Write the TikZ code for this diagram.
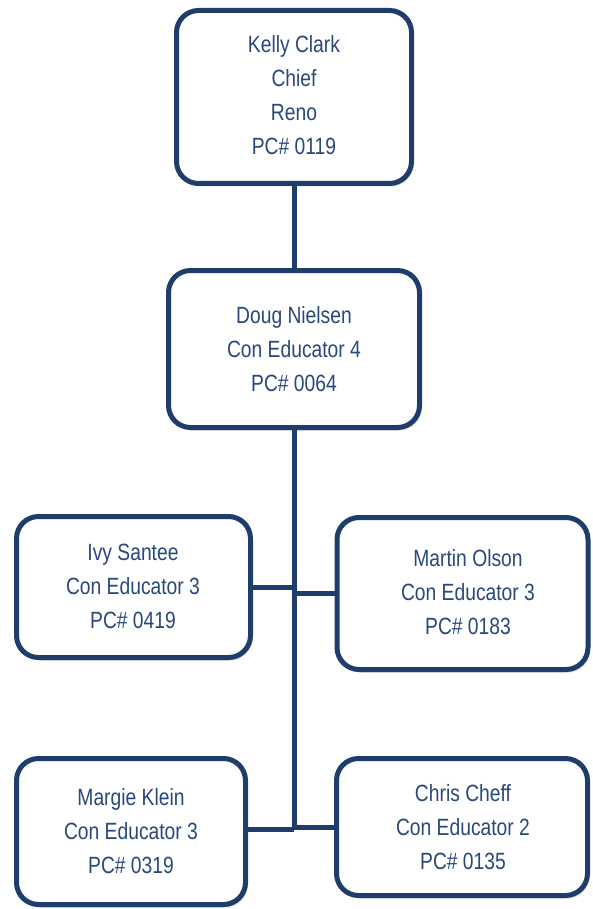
\documentclass[tikz,border=0pt]{standalone}
\usepackage{fontspec}
\setmainfont[FakeStretch=0.82]{Liberation Sans}
\usetikzlibrary{shadows}
\definecolor{edge}{RGB}{31,61,107}
\definecolor{txt}{RGB}{42,72,122}
\begin{document}
\begin{tikzpicture}[x=1pt,y=-1pt,
  box/.style={draw=edge, line width=5pt, rounded corners=22pt, fill=white,
    inner sep=0pt, drop shadow={shadow xshift=2pt, shadow yshift=-3pt, opacity=0.25, fill=black!60}},
  lbl/.style={text=txt, align=center, font=\fontsize{23.5}{34}\selectfont, inner sep=0pt},
  link/.style={draw=edge, line width=5pt}]
\useasboundingbox (0,0) rectangle (592,909);
% boxes
\node[box, minimum width=235pt, minimum height=173pt] (kelly) at (294,97) {};
\node[box, minimum width=251pt, minimum height=157pt] (doug) at (294,349) {};
\node[box, minimum width=234pt, minimum height=141pt] (ivy) at (133.5,587) {};
\node[box, minimum width=251pt, minimum height=152pt] (martin) at (462.5,593.5) {};
\node[box, minimum width=229pt, minimum height=146pt] (margie) at (131,831.5) {};
\node[box, minimum width=251pt, minimum height=137pt] (chris) at (462,827) {};
% texts
\node[lbl] (kellyT) at (294,95.5) {Kelly Clark\\Chief\\Reno\\PC\# 0119};
\node[lbl] (dougT) at (294,349) {Doug Nielsen\\Con Educator 4\\PC\# 0064};
\node[lbl] (ivyT) at (133,586.5) {Ivy Santee\\Con Educator 3\\PC\# 0419};
\node[lbl] (martinT) at (468,592.5) {Martin Olson\\Con Educator 3\\PC\# 0183};
\node[lbl] (margieT) at (131,831) {Margie Klein\\Con Educator 3\\PC\# 0319};
\node[lbl] (chrisT) at (463,827) {Chris Cheff\\Con Educator 2\\PC\# 0135};
% connectors
\coordinate (trunkEnd) at (294,829);
\draw[link] (kelly.south) -- (doug.north);
\draw[link] (doug.south) -- (trunkEnd);
\draw[link] (ivy.east) -- (ivy.east -| doug.south);
\draw[link] (martin.west) -- (martin.west -| doug.south);
\draw[link] (margie.east |- trunkEnd) -- (trunkEnd);
\draw[link] (chris.west) -- (chris.west -| doug.south);
\end{tikzpicture}
\end{document}
